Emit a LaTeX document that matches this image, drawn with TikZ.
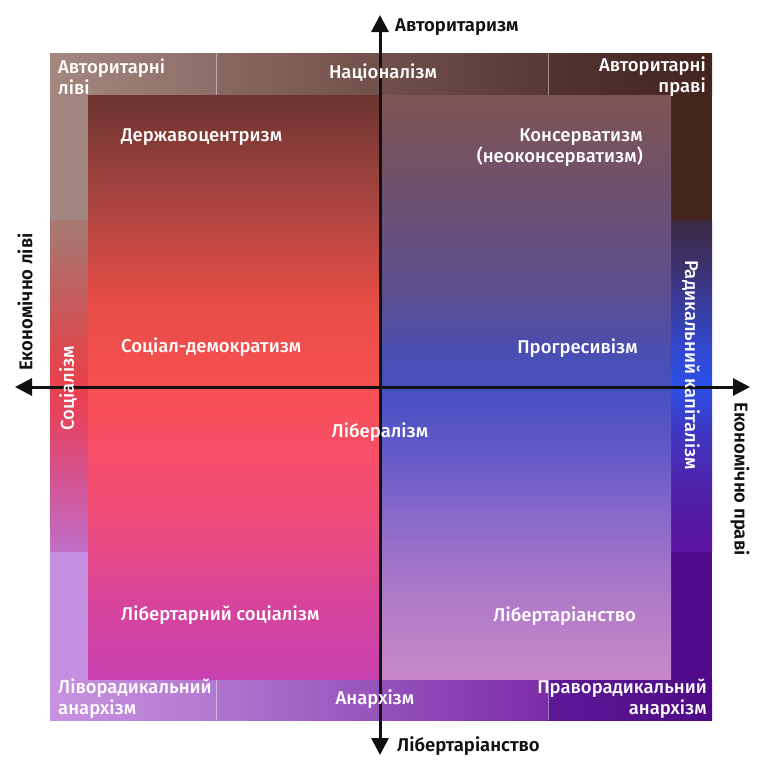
\documentclass[tikz,border=0pt]{standalone}
\usepackage{fontspec}
\setmainfont{Fira Sans}[UprightFont=* Medium, BoldFont=* SemiBold]
\usetikzlibrary{arrows.meta}

% inner left quadrant
\definecolor{iLa}{HTML}{C840B0}
\definecolor{iLb}{HTML}{D8449A}
\definecolor{iLc}{HTML}{EE4C7A}
\definecolor{iLd}{HTML}{F84E68}
\definecolor{iLe}{HTML}{F85052}
\definecolor{iLf}{HTML}{E64C46}
\definecolor{iLg}{HTML}{A84440}
\definecolor{iLh}{HTML}{6C3430}
% inner right quadrant
\definecolor{iRa}{HTML}{C888C8}
\definecolor{iRb}{HTML}{B07AC8}
\definecolor{iRc}{HTML}{8A6AC8}
\definecolor{iRd}{HTML}{6258C8}
\definecolor{iRe}{HTML}{4650C0}
\definecolor{iRf}{HTML}{4A4EB0}
\definecolor{iRg}{HTML}{5A4E92}
\definecolor{iRh}{HTML}{6C5070}
\definecolor{iRi}{HTML}{7E5552}
% left band
\definecolor{bLa}{HTML}{C070C8}
\definecolor{bLb}{HTML}{C862B0}
\definecolor{bLc}{HTML}{D84E82}
\definecolor{bLd}{HTML}{E44462}
\definecolor{bLe}{HTML}{EA404E}
\definecolor{bLf}{HTML}{DC4A4E}
\definecolor{bLg}{HTML}{C45C5C}
\definecolor{bLh}{HTML}{AC746E}
\definecolor{bLi}{HTML}{A87A72}
% right band
\definecolor{bRa}{HTML}{5A12A0}
\definecolor{bRb}{HTML}{5418A0}
\definecolor{bRc}{HTML}{4A28B0}
\definecolor{bRd}{HTML}{3A3CC8}
\definecolor{bRe}{HTML}{2C50E8}
\definecolor{bRf}{HTML}{3048D0}
\definecolor{bRg}{HTML}{3A3A98}
\definecolor{bRh}{HTML}{3C3068}
\definecolor{bRi}{HTML}{3C2A44}
% other
\definecolor{tlA}{HTML}{A4887F}
\definecolor{tlB}{HTML}{8E6E68}
\definecolor{tlBand}{HTML}{A28680}
\definecolor{tmA}{HTML}{88685F}
\definecolor{tmB}{HTML}{583834}
\definecolor{trA}{HTML}{533330}
\definecolor{trB}{HTML}{43241F}
\definecolor{trBand}{HTML}{44261F}
\definecolor{blA}{HTML}{C892E0}
\definecolor{blB}{HTML}{B478D0}
\definecolor{blBand}{HTML}{C68EE0}
\definecolor{bmA}{HTML}{AE76CE}
\definecolor{bmB}{HTML}{7C2CA8}
\definecolor{brA}{HTML}{5C1896}
\definecolor{brB}{HTML}{4E0A86}
\definecolor{brBand}{HTML}{52098A}
\definecolor{axiscol}{HTML}{111111}

\pgfdeclareverticalshading{innerLshade}{100bp}{color(0bp)=(iLa); color(25bp)=(iLa); color(31.8bp)=(iLb); color(38.6bp)=(iLc); color(44.6bp)=(iLd); color(50bp)=(iLe); color(57.45bp)=(iLf); color(66bp)=(iLg); color(75bp)=(iLh); color(100bp)=(iLh)}
\pgfdeclareverticalshading{innerRshade}{100bp}{color(0bp)=(iRa); color(25bp)=(iRa); color(31.8bp)=(iRb); color(38.6bp)=(iRc); color(44.6bp)=(iRd); color(50bp)=(iRe); color(53.25bp)=(iRf); color(57.45bp)=(iRg); color(66bp)=(iRh); color(75bp)=(iRi); color(100bp)=(iRi)}
\pgfdeclareverticalshading{bandLshade}{100bp}{color(0bp)=(bLa); color(25bp)=(bLa); color(29.8bp)=(bLb); color(38.9bp)=(bLc); color(44.9bp)=(bLd); color(49.85bp)=(bLe); color(55.4bp)=(bLf); color(63bp)=(bLg); color(72bp)=(bLh); color(75bp)=(bLi); color(100bp)=(bLi)}
\pgfdeclareverticalshading{bandRshade}{100bp}{color(0bp)=(bRa); color(25bp)=(bRa); color(29.8bp)=(bRb); color(37.3bp)=(bRc); color(44.9bp)=(bRd); color(49.85bp)=(bRe); color(55.4bp)=(bRf); color(63bp)=(bRg); color(68.7bp)=(bRh); color(75bp)=(bRi); color(100bp)=(bRi)}

\tikzset{
  lbl/.style={text=white, inner sep=0pt, font=\fontsize{18.5}{21}\selectfont},
  axlbl/.style={text=axiscol, inner sep=0pt, font=\bfseries\fontsize{18.5}{21}\selectfont},
  divider/.style={draw=white, draw opacity=0.45, line width=0.9pt},
  axisline/.style={draw=axiscol, line width=3pt, {Triangle[length=17pt,width=17pt]}-{Triangle[length=17pt,width=17pt]}}
}

\begin{document}
\begin{tikzpicture}[x=1pt,y=-1pt]
\useasboundingbox[fill=white] (0,0) rectangle (764,782);

% ---- outer frame ----
\fill[left color=tlA, right color=tlB] (50,53) rectangle (216,95);
\fill[tlBand] (50,95) rectangle (88,220);
\fill[left color=tmA, right color=tmB] (216,53) rectangle (548,95);
\fill[left color=trA, right color=trB] (548,53) rectangle (712,95);
\fill[trBand] (671,95) rectangle (712,220);
\fill[shading=bandLshade] (50,220) rectangle (88,552);
\fill[shading=bandRshade] (671,220) rectangle (712,552);
\fill[blBand] (50,552) rectangle (88,679);
\fill[left color=blA, right color=blB] (50,679) rectangle (216,720);
\fill[left color=bmA, right color=bmB] (216,679) rectangle (548,720);
\fill[brBand] (671,552) rectangle (712,679);
\fill[left color=brA, right color=brB] (548,679) rectangle (712,720);

% dividers
\draw[divider] (216,53) -- (216,95);
\draw[divider] (548,53) -- (548,95);
\draw[divider] (216,679) -- (216,720);
\draw[divider] (548,679) -- (548,720);

% ---- inner square ----
\fill[shading=innerLshade] (88,95) rectangle (380,679);
\fill[shading=innerRshade] (380,95) rectangle (671,679);

% ---- axes ----
\coordinate (axT) at (380,15);
\coordinate (axB) at (380,755);
\coordinate (axL) at (15,387);
\coordinate (axR) at (750,387);
\draw[axisline] (axB) -- (axT);
\draw[axisline] (axL) -- (axR);

% ---- axis labels ----
\node[axlbl, anchor=west] (lblAuth) at (395,27) {Авторитаризм};
\node[axlbl, anchor=west] (lblLibAx) at (397,746) {Лібертаріанство};
\node[axlbl, rotate=90] (lblEL) at (25,302) {Економічно ліві};
\node[axlbl, rotate=-90] (lblER) at (740,479) {Економічно праві};

% ---- frame labels ----
\node[lbl, anchor=west, align=left] (autL) at (58,77) {Авторитарні\\ліві};
\node[lbl] (nat) at (383,73) {Націоналізм};
\node[lbl, anchor=east, align=right] (autR) at (706,77) {Авторитарні\\праві};
\node[lbl, rotate=90] (soc) at (68,388) {Соціалізм};
\node[lbl, rotate=-90] (radcap) at (691,365) {Радикальний капіталізм};
\node[lbl, anchor=west, align=left] (anarL) at (58,699) {Ліворадикальний\\анархізм};
\node[lbl] (anar) at (375,699) {Анархізм};
\node[lbl, anchor=east, align=right] (anarR) at (707,699) {Праворадикальний\\анархізм};

% ---- inner labels ----
\node[lbl, anchor=west] (stat) at (121,137) {Державоцентризм};
\node[lbl, anchor=east, align=right] (cons) at (643,148) {Консерватизм\\(неоконсерватизм)};
\node[lbl, anchor=west] (socdem) at (121,347) {Соціал-демократизм};
\node[lbl, anchor=east] (prog) at (638,348) {Прогресивізм};
\node[lbl] (lib) at (380,432) {Лібералізм};
\node[lbl, anchor=west] (libsoc) at (121,615) {Лібертарний соціалізм};
\node[lbl, anchor=east] (libert) at (636,616) {Лібертаріанство};
\end{tikzpicture}
\end{document}
